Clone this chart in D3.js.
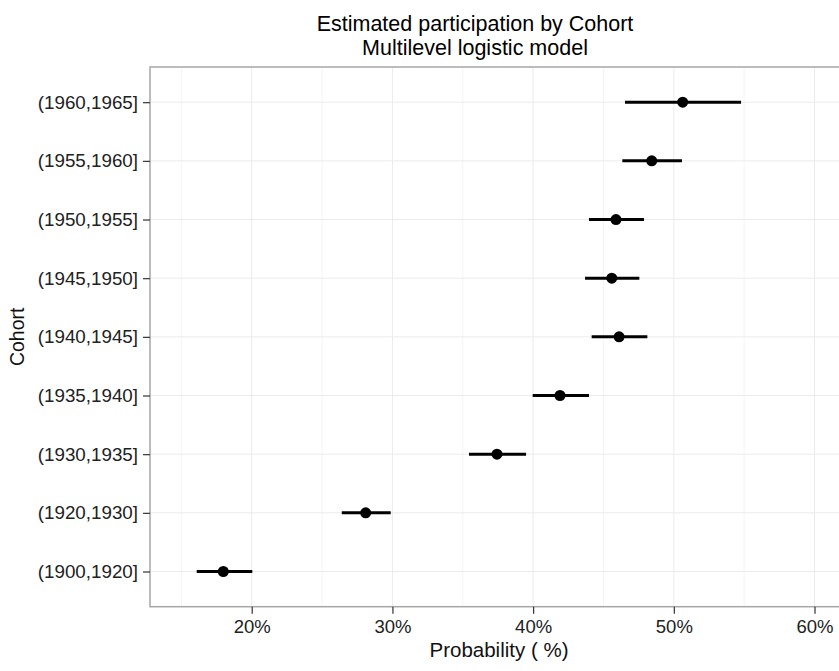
<!DOCTYPE html>
<html>
<head>
<meta charset="utf-8">
<script src="https://cdn.jsdelivr.net/npm/d3@7"></script>
<style>
  body { margin: 0; background: #fff; overflow: hidden; }
  svg { display: block; font-family: "Liberation Sans", Arial, sans-serif; }
</style>
</head>
<body>
<svg width="839" height="671"></svg>
<script>
'use strict';

// cohorts listed bottom to top
var cohorts = ['(1900,1920]', '(1920,1930]', '(1930,1935]', '(1935,1940]', '(1940,1945]',
               '(1945,1950]', '(1950,1955]', '(1955,1960]', '(1960,1965]'];
var estimate = [17.98, 28.1, 37.43, 41.91, 46.11, 45.59, 45.89, 48.43, 50.63];
var lower = [16.09, 26.4, 35.44, 39.97, 44.16, 43.69, 43.97, 46.34, 46.53];
var upper = [20.04, 29.88, 39.5, 43.97, 48.12, 47.55, 47.88, 50.58, 54.78];
var majorTicks = [20, 30, 40, 50, 60];
var minorTicks = [15, 25, 35, 45, 55];
var titleLines = ['Estimated participation by Cohort', 'Multilevel logistic model'];

(function () {
  var svg = d3.select('svg');
  var panel = { left: 150, top: 67, right: 848, bottom: 606.7 };

  var rows = cohorts.map(function (c, i) {
    return { cohort: c, est: estimate[i], lo: lower[i], hi: upper[i] };
  });

  var x = d3.scaleLinear().domain([12.77, 62.38]).range([panel.left, panel.right]);
  var y = d3.scalePoint().domain(cohorts).range([panel.bottom, panel.top]).padding(0.6);

  var g = svg.append('g');

  // grid
  g.selectAll('.minor').data(minorTicks).enter().append('line')
    .attr('class', 'minor')
    .attr('x1', function (d) { return x(d) }).attr('x2', function (d) { return x(d) })
    .attr('y1', panel.top).attr('y2', panel.bottom)
    .attr('stroke', '#f4f4f4').attr('stroke-width', 1);
  g.selectAll('.vmajor').data(majorTicks).enter().append('line')
    .attr('class', 'vmajor')
    .attr('x1', function (d) { return x(d) }).attr('x2', function (d) { return x(d) })
    .attr('y1', panel.top).attr('y2', panel.bottom)
    .attr('stroke', '#ebebeb').attr('stroke-width', 1);
  g.selectAll('.hmajor').data(cohorts).enter().append('line')
    .attr('class', 'hmajor')
    .attr('x1', panel.left).attr('x2', panel.right)
    .attr('y1', function (d) { return y(d) }).attr('y2', function (d) { return y(d) })
    .attr('stroke', '#ebebeb').attr('stroke-width', 1);

  // error bars and points
  g.selectAll('.ci').data(rows).enter().append('line')
    .attr('class', 'ci')
    .attr('x1', function (d) { return x(d.lo) }).attr('x2', function (d) { return x(d.hi) })
    .attr('y1', function (d) { return y(d.cohort) }).attr('y2', function (d) { return y(d.cohort) })
    .attr('stroke', '#000').attr('stroke-width', 3);
  g.selectAll('.pt').data(rows).enter().append('circle')
    .attr('class', 'pt')
    .attr('cx', function (d) { return x(d.est) })
    .attr('cy', function (d) { return y(d.cohort) })
    .attr('r', 5.5).attr('fill', '#000');

  // panel border
  g.append('rect')
    .attr('x', panel.left).attr('y', panel.top)
    .attr('width', panel.right - panel.left).attr('height', panel.bottom - panel.top)
    .attr('fill', 'none').attr('stroke', '#a6a6a6').attr('stroke-width', 1.5);

  // axes
  var xAxis = d3.axisBottom(x).tickValues(majorTicks).tickSize(7).tickPadding(5)
    .tickFormat(function (d) { return d + '%' });
  var yAxis = d3.axisLeft(y).tickSize(7).tickPadding(5);

  var gx = svg.append('g').attr('transform', 'translate(0,' + panel.bottom + ')').call(xAxis);
  var gy = svg.append('g').attr('transform', 'translate(' + panel.left + ',0)').call(yAxis);
  [gx, gy].forEach(function (a) {
    a.select('.domain').remove();
    a.selectAll('.tick line').attr('stroke', '#333').attr('stroke-width', 1.2);
    a.selectAll('.tick text').attr('fill', '#222');
  });
  gx.selectAll('.tick text').attr('dy', '0.8em').style('font-size', '18.5px');
  gy.selectAll('.tick text').style('font-size', '18.8px');

  // labels
  svg.append('text')
    .attr('x', (panel.left + panel.right) / 2).attr('y', 657)
    .attr('text-anchor', 'middle').style('font-size', '20.5px').attr('fill', '#111')
    .text('Probability ( %)');
  svg.append('text')
    .attr('transform', 'translate(24,' + ((panel.top + panel.bottom) / 2) + ') rotate(-90)')
    .attr('text-anchor', 'middle').style('font-size', '19.5px').attr('fill', '#111')
    .text('Cohort');

  svg.selectAll('.title').data(titleLines).enter().append('text')
    .attr('class', 'title')
    .attr('x', 475).attr('y', function (d, i) { return 31 + i * 23.5 })
    .attr('text-anchor', 'middle').style('font-size', '21.5px').attr('fill', '#000')
    .text(function (d) { return d });
})();
</script>
</body>
</html>
